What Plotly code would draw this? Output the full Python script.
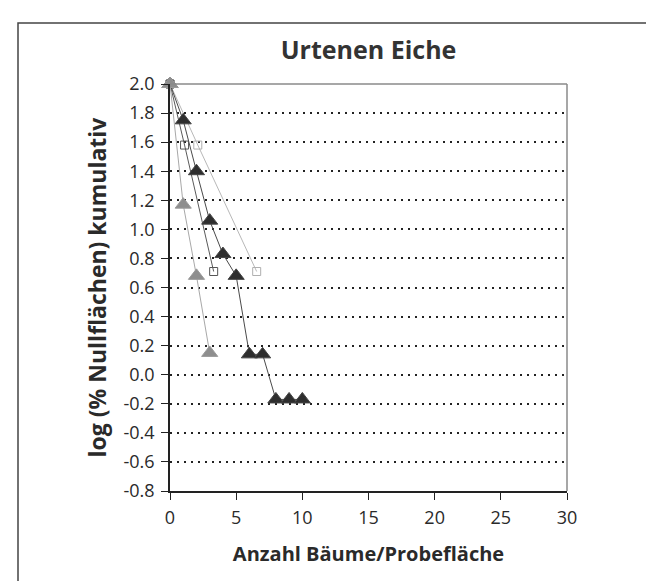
import plotly.graph_objects as go

# Data
dark_tri_x = [0, 1, 2, 3, 4, 5, 6, 7, 8, 9, 10]
dark_tri_y = [2.0, 1.75, 1.40, 1.06, 0.83, 0.68, 0.14, 0.14, -0.17, -0.17, -0.17]

gray_tri_x = [0, 1, 2, 3]
gray_tri_y = [2.0, 1.17, 0.68, 0.15]

dark_sq_x = [0, 1.1, 3.3]
dark_sq_y = [2.0, 1.58, 0.71]

light_sq_x = [0, 2.1, 6.55]
light_sq_y = [2.0, 1.58, 0.71]

x_tick_vals = [0, 5, 10, 15, 20, 25, 30]
y_tick_vals = [2.0, 1.8, 1.6, 1.4, 1.2, 1.0, 0.8, 0.6, 0.4, 0.2, 0.0,
               -0.2, -0.4, -0.6, -0.8]
y_tick_labels = ["2.0", "1.8", "1.6", "1.4", "1.2", "1.0", "0.8", "0.6", "0.4",
                 "0.2", "0.0", "-0.2", "-0.4", "-0.6", "-0.8"]

FONT = "Open Sans"
TXT = "#2a2a2a"

fig = go.Figure()

fig.add_trace(go.Scatter(
    x=light_sq_x, y=light_sq_y, mode="lines+markers",
    line=dict(color="#b8b8b8", width=1),
    marker=dict(symbol="square-open", size=8, color="#b0b0b0", line=dict(width=1)),
    cliponaxis=False, showlegend=False))

fig.add_trace(go.Scatter(
    x=dark_sq_x, y=dark_sq_y, mode="lines+markers",
    line=dict(color="#5a5a5a", width=1),
    marker=dict(symbol="square-open", size=8, color="#555555", line=dict(width=1)),
    cliponaxis=False, showlegend=False))

fig.add_trace(go.Scatter(
    x=dark_tri_x, y=dark_tri_y, mode="lines+markers",
    line=dict(color="#4a4a4a", width=1),
    marker=dict(symbol="triangle-up", size=14, color="#2e2e2e",
                line=dict(color="#444444", width=1)),
    cliponaxis=False, showlegend=False))

fig.add_trace(go.Scatter(
    x=gray_tri_x, y=gray_tri_y, mode="lines+markers",
    line=dict(color="#a8a8a8", width=1),
    marker=dict(symbol="triangle-up", size=14, color="#8e8e8e",
                line=dict(color="#9a9a9a", width=1)),
    cliponaxis=False, showlegend=False))

fig.update_layout(
    width=654, height=581,
    margin=dict(l=162, r=95, t=76, b=98),
    paper_bgcolor="white", plot_bgcolor="white",
    font=dict(family=FONT, color=TXT),
    title=dict(text="<b>Urtenen Eiche</b>", x=0.5, xref="paper", xanchor="center",
               y=1 - 42 / 581, yref="container", yanchor="middle",
               font=dict(family=FONT, size=25, color="#333333")),
    xaxis=dict(range=[0, 30], tickvals=x_tick_vals, showgrid=False, zeroline=False,
               showline=True, linecolor="#222222", linewidth=1.5,
               ticks="outside", ticklen=7, tickcolor="#222222", tickwidth=1,
               ticklabelstandoff=3,
               tickfont=dict(size=18, color=TXT, family=FONT),
               title=dict(text="<b>Anzahl Bäume/Probefläche</b>", standoff=19,
                          font=dict(size=20, color=TXT, family=FONT))),
    yaxis=dict(range=[-0.8, 2.0], tickvals=y_tick_vals, ticktext=y_tick_labels,
               showgrid=True, gridcolor="#222222", gridwidth=1.5, griddash="2px,5px",
               zeroline=False,
               showline=True, linecolor="#222222", linewidth=1.5,
               ticks="outside", ticklen=7, tickcolor="#222222", tickwidth=1,
               ticklabelstandoff=3,
               tickfont=dict(size=18, color=TXT, family=FONT),
               title=dict(text="<b>log (% Nullflächen) kumulativ</b>", standoff=10,
                          font=dict(size=23, color=TXT, family=FONT))),
    shapes=[
        dict(type="line", xref="paper", yref="paper", x0=0, x1=1, y0=1, y1=1,
             line=dict(color="#8a8a8a", width=1.5)),
        dict(type="line", xref="paper", yref="paper", x0=1, x1=1, y0=0, y1=1,
             line=dict(color="#8a8a8a", width=1.5)),
        dict(type="rect", xref="paper", yref="paper",
             x0=(10 - 162) / 397, x1=(700 - 162) / 397,
             y0=(483 - 620) / 407, y1=1 + (76 - 15) / 407,
             line=dict(color="#444444", width=1.5), layer="below"),
    ],
)

fig.write_html("out.html")
